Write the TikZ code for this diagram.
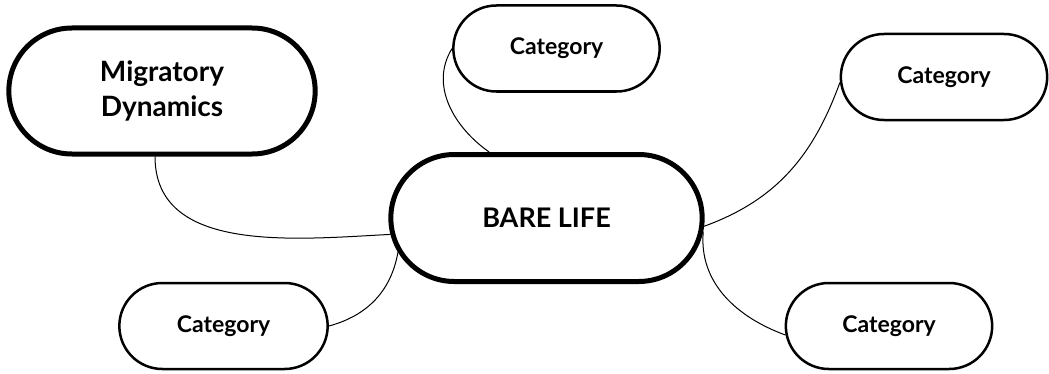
\documentclass[tikz,border=0pt]{standalone}
\usepackage{fontspec}
\setmainfont{Lato}
\usetikzlibrary{shapes.misc}

\tikzset{
	hub/.style={rounded rectangle, draw, line width=5pt, align=center,
		font=\bfseries\fontsize{28}{35}\selectfont},
	leaf/.style={rounded rectangle, draw, line width=2.5pt,
		minimum width=213pt, minimum height=86pt,
		font=\bfseries\fontsize{23}{26}\selectfont},
	link/.style={line width=1pt}
}

\begin{document}
\begin{tikzpicture}[x=1pt,y=1pt]
	
	\useasboundingbox (0,0) rectangle (1049,373);
	
	% main nodes
	\node[hub, minimum width=313pt, minimum height=126pt] (migr) at (162,282) {Migratory\\Dynamics};
	\node[hub, minimum width=318pt, minimum height=127pt, font=\bfseries\fontsize{27}{30}\selectfont] (bare) at (546.5,155) {BARE LIFE};
	
	% categories
	\node[leaf] (catTop) at (556.5,324.5) {Category};
	\node[leaf] (catRight) at (944,296) {Category};
	\node[leaf, minimum width=215pt] (catLeft) at (223.5,47) {Category};
	\node[leaf] (catLow) at (889,47) {Category};
	
	% connectors
	\draw[link] ([xshift=-7pt]migr.south) to[out=-90,in=183] (bare.186);
	\draw[link] (catTop.west) to[out=-122,in=145] (bare.131);
	\draw[link] (catRight.183) to[out=-110,in=20] (bare.357);
	\draw[link] (bare.193) to[out=-100,in=15] (catLeft.east);
	\draw[link] (bare.355) to[out=-95,in=160] (catLow.185);
	
\end{tikzpicture}
\end{document}
